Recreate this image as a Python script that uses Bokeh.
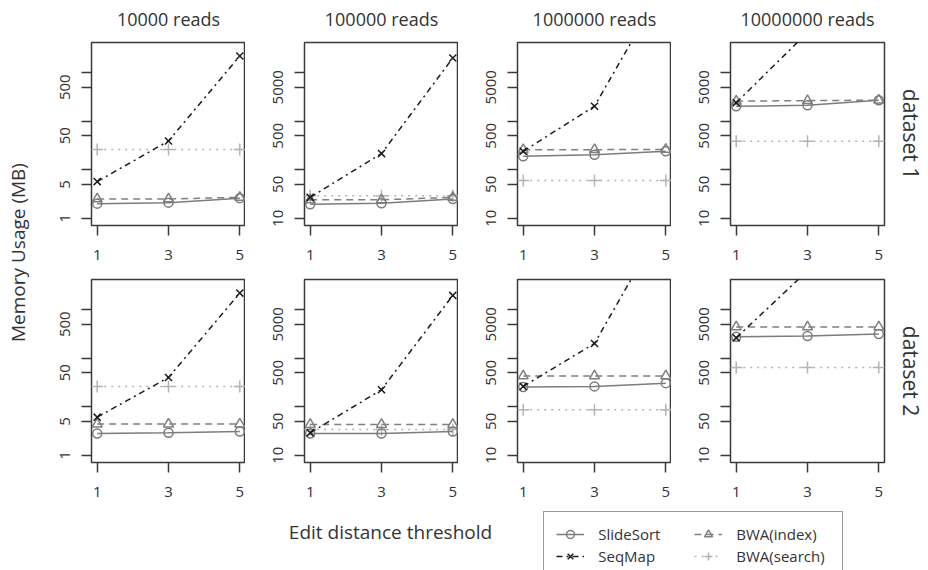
import math
from bokeh.plotting import figure
from bokeh.layouts import row, column
from bokeh.models import (Range1d, FixedTicker, Label, Legend, LegendItem,
                          BasicTickFormatter)
from bokeh.embed import file_html
from bokeh.resources import INLINE

# ---------------- data ----------------
thresholds = [1, 3, 5]
read_labels = ["10000 reads", "100000 reads", "1000000 reads", "10000000 reads"]
dataset_labels = ["dataset 1", "dataset 2"]

# memory usage (MB); one inner list per read count, values at thresholds 1, 3, 5
slidesort_d1 = [[2.0, 2.1, 2.6], [19.5, 20.4, 25], [189, 204, 240], [2030, 2120, 2700]]
seqmap_d1 = [[5.7, 39, 2200], [27, 215, 20000], [240, 2030, 740000], [2400, 67000, 1500000]]
bwa_index_d1 = [[2.5, 2.5, 2.7], [24, 24, 27], [259, 259, 262], [2580, 2650, 2700]]
bwa_search_d1 = [[26, 26, 26], [29, 29, 29], [60, 60, 60], [386, 386, 386]]

slidesort_d2 = [[2.8, 2.9, 3.1], [28, 28, 31], [255, 262, 306], [2760, 2850, 3150]]
seqmap_d2 = [[6.1, 40, 2190], [29, 224, 19600], [262, 2010, 745000], [2620, 63000, 1500000]]
bwa_index_d2 = [[4.4, 4.4, 4.4], [43, 43, 43], [430, 430, 430], [4400, 4400, 4400]]
bwa_search_d2 = [[26, 26, 26], [34, 34, 34], [87, 87, 87], [640, 640, 640]]

y_ticks_small = [1, 5, 10, 50, 100, 500, 1000]
y_ticks_large = [10, 50, 100, 500, 1000, 5000, 10000]
y_labels_small = {1: "1", 5: "5", 10: "", 50: "50", 100: "", 500: "500", 1000: ""}
y_labels_large = {10: "10", 50: "50", 100: "", 500: "500", 1000: "", 5000: "5000", 10000: ""}

series_names = ["SlideSort", "SeqMap", "BWA(index)", "BWA(search)"]
data_by_dataset = [
    [slidesort_d1, seqmap_d1, bwa_index_d1, bwa_search_d1],
    [slidesort_d2, seqmap_d2, bwa_index_d2, bwa_search_d2],
]

# ---------------- styles ----------------
styles = {
    "SlideSort": dict(color="#7c7c7c", dash="solid", marker="circle", size=9),
    "SeqMap": dict(color="#1c1c1c", dash="6 4 2 4", marker="x", size=10),
    "BWA(index)": dict(color="#808080", dash="7 5", marker="triangle", size=10),
    "BWA(search)": dict(color="#b4b4b4", dash="2 5", marker="cross", size=12),
}
FONT = "Open Sans"
TXT = "#333333"
BOX = "#3a3a3a"
FW, FH = 154, 183
LB = 59
TOP0, TOP1, BOT = 2, 8, 46
YLAB_W = 32
HEAD_H = 40
LAST_RB = 2


def style_axis(ax, ticks, standoff, overrides=None):
    ax.ticker = FixedTicker(ticks=ticks)
    ax.major_tick_out = 10
    ax.major_tick_in = 0
    ax.minor_tick_out = 0
    ax.minor_tick_in = 0
    ax.axis_line_color = None
    ax.major_tick_line_color = BOX
    ax.major_tick_line_width = 1.5
    ax.major_label_text_font = FONT
    ax.major_label_text_font_size = "15px"
    ax.major_label_text_color = TXT
    ax.major_label_standoff = standoff
    if overrides is not None:
        ax.formatter = BasicTickFormatter()
        ax.major_label_overrides = overrides


def make_panel(r, c):
    top = r == 0
    last = c == 3
    small = c == 0
    lo, hi = (0.71, 4170) if small else (7.1, 41700)
    width = LB + FW + (LAST_RB if last else 0)
    height = (TOP0 if top else TOP1) + FH + BOT
    p = figure(width=width, height=height,
               x_range=Range1d(0.84, 5.16), y_range=Range1d(lo, hi),
               y_axis_type="log", output_backend="svg", toolbar_location=None,
               min_border_left=LB, min_border_right=LAST_RB if last else 0,
               min_border_top=TOP0 if top else TOP1, min_border_bottom=BOT)
    p.xgrid.visible = False
    p.ygrid.visible = False
    p.outline_line_color = BOX
    p.outline_line_width = 1.5
    style_axis(p.xaxis[0], thresholds, 14)
    style_axis(p.yaxis[0], y_ticks_small if small else y_ticks_large, 11,
               y_labels_small if small else y_labels_large)
    p.yaxis[0].major_label_orientation = "vertical"

    order = [3, 2, 0, 1]  # draw search, index, slidesort, seqmap
    for k in order:
        name = series_names[k]
        st = styles[name]
        ys = data_by_dataset[r][k][c]
        p.line(thresholds, ys, line_color=st["color"], line_dash=st["dash"], line_width=1.5)
        p.scatter(thresholds, ys, marker=st["marker"], size=st["size"],
                  line_color=st["color"], fill_color=None, line_width=1.5)
    return p


def blank(w, h):
    f = figure(width=w, height=h, x_range=Range1d(0, 1), y_range=Range1d(0, 1),
               output_backend="svg", toolbar_location=None,
               x_axis_location=None, y_axis_location=None,
               min_border_left=0, min_border_right=0, min_border_top=0, min_border_bottom=0)
    f.xgrid.visible = False
    f.ygrid.visible = False
    f.outline_line_color = None
    return f


panel_rows = [row(*[make_panel(r, c) for c in range(4)]) for r in range(2)]
mid_h = (TOP0 + FH + BOT) + (TOP1 + FH + BOT)
panels_w = 4 * (LB + FW) + LAST_RB
full_w = 928
right_w = full_w - YLAB_W - panels_w

# header with column titles
head = blank(full_w, HEAD_H)
for c in range(4):
    cx = YLAB_W + LB + FW / 2 + c * (LB + FW)
    head.add_layout(Label(x=cx, y=HEAD_H - 18, x_units="screen", y_units="screen",
                          text=read_labels[c], text_align="center", text_baseline="middle",
                          text_font=FONT, text_font_size="18px", text_color=TXT))

# left y-axis title
ylab = blank(YLAB_W, mid_h)
ylab.add_layout(Label(x=17, y=mid_h - (252 - HEAD_H), x_units="screen", y_units="screen",
                      text="Memory Usage (MB)", angle=math.pi / 2,
                      text_align="center", text_baseline="middle",
                      text_font=FONT, text_font_size="19px", text_color=TXT))

# right row titles
rlab = blank(right_w, mid_h)
row_centers = [HEAD_H + TOP0 + FH / 2, HEAD_H + TOP0 + FH + BOT + TOP1 + FH / 2]
for r in range(2):
    rlab.add_layout(Label(x=910 - (full_w - right_w), y=mid_h - (row_centers[r] - HEAD_H),
                          x_units="screen", y_units="screen",
                          text=dataset_labels[r], angle=-math.pi / 2,
                          text_align="center", text_baseline="middle",
                          text_font=FONT, text_font_size="21px", text_color=TXT))

# bottom: x-axis title and legend
bottom_h = 570 - HEAD_H - mid_h
bf = blank(full_w, bottom_h)
bf.add_layout(Label(x=390, y=bottom_h - (531.7 - HEAD_H - mid_h), x_units="screen", y_units="screen",
                    text="Edit distance threshold", text_align="center", text_baseline="middle",
                    text_font=FONT, text_font_size="19px", text_color=TXT))

items = []
for name in series_names:
    st = styles[name]
    lr = bf.line(x=[-5, -4], y=[-5, -5], line_color=st["color"], line_dash=st["dash"], line_width=1.5)
    sr = bf.scatter(x=[-5], y=[-5], marker=st["marker"], size=st["size"],
                    line_color=st["color"], fill_color=None, line_width=1.5)
    items.append(LegendItem(label=name, renderers=[lr, sr]))

legend_top = 513.3 - HEAD_H - mid_h
legend = Legend(items=items, location=(543.3, bottom_h - legend_top - 66), nrows=2,
                glyph_width=28, glyph_height=20, label_standoff=14, label_width=94,
                label_height=20, spacing=2, padding=12, margin=0,
                border_line_color=BOX, border_line_width=1.5,
                label_text_font=FONT, label_text_font_size="15px", label_text_color=TXT,
                background_fill_color="white", background_fill_alpha=1.0)
bf.add_layout(legend)

layout = column(head, row(ylab, column(*panel_rows), rlab), bf)

open("out.html", "w").write(file_html(layout, INLINE))
